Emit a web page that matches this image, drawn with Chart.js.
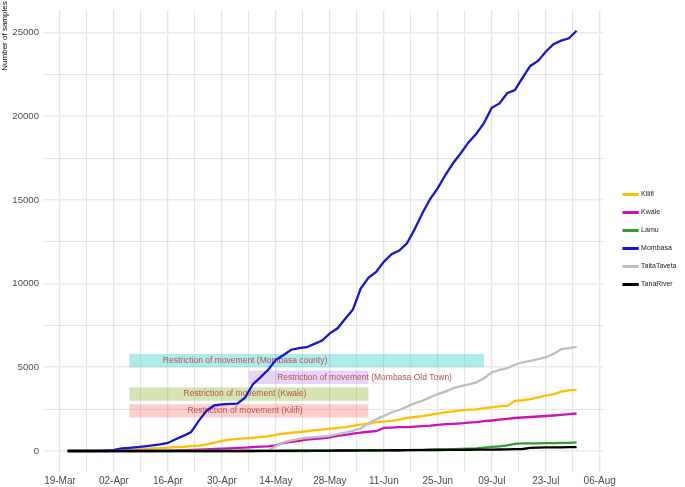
<!DOCTYPE html>
<html lang="en">
<head>
<meta charset="UTF-8">
<title>Number of samples by county</title>
<script src="https://cdn.jsdelivr.net/npm/chart.js"></script>
<style>
  html, body { margin: 0; padding: 0; background: #fff; }
  #wrap { width: 685px; height: 487px; }
</style>
</head>
<body>
<div id="wrap"><canvas id="chart"></canvas></div>
<script>
// days since 19-Mar-2020
const days = [2, 4, 6, 8, 10, 12, 14, 16, 18, 20,
  22, 24, 26, 28, 30, 32, 34, 36, 38, 40,
  42, 44, 46, 48, 50, 52, 54, 56, 58, 60,
  62, 64, 66, 68, 70, 72, 74, 76, 78, 80,
  82, 84, 86, 88, 90, 92, 94, 96, 98, 100,
  102, 104, 106, 108, 110, 112, 114, 116, 118, 120,
  122, 124, 126, 128, 130, 132, 134];

const counties = ['Kilifi', 'Kwale', 'Lamu', 'Mombasa', 'TaitaTaveta', 'TanaRiver'];
const colors = ['#ffc000', '#cc11b8', '#2fa02c', '#1616d8', '#bebebe', '#000000'];

const kilifi = [0, 0, 0, 0, 0, 0, 20, 40, 70, 100,
  120, 150, 170, 200, 230, 250, 290, 320, 400, 500,
  600, 680, 720, 750, 790, 830, 880, 960, 1040, 1090,
  1130, 1180, 1240, 1280, 1330, 1380, 1430, 1500, 1580, 1640,
  1720, 1760, 1800, 1880, 1980, 2030, 2080, 2160, 2230, 2300,
  2360, 2420, 2470, 2490, 2560, 2610, 2660, 2690, 3000, 3030,
  3100, 3200, 3300, 3380, 3540, 3620, 3670];
const kwale = [0, 0, 0, 0, 0, 0, 0, 0, 0, 0,
  0, 0, 10, 20, 30, 45, 60, 80, 100, 120,
  140, 160, 180, 200, 230, 260, 280, 330, 480, 540,
  600, 680, 720, 760, 820, 900, 960, 1040, 1100, 1150,
  1180, 1380, 1400, 1420, 1430, 1450, 1480, 1510, 1560, 1600,
  1620, 1650, 1690, 1730, 1780, 1820, 1870, 1920, 1970, 2000,
  2030, 2060, 2090, 2120, 2160, 2200, 2240];
const lamu = [0, 0, 0, 0, 0, 0, 0, 0, 0, 0,
  0, 0, 0, 0, 0, 0, 0, 0, 0, 0,
  0, 0, 0, 0, 0, 0, 0, 0, 0, 0,
  0, 0, 10, 10, 15, 20, 20, 25, 25, 30,
  30, 35, 40, 45, 50, 60, 70, 80, 90, 100,
  110, 120, 140, 160, 200, 240, 280, 330, 430, 450,
  460, 460, 470, 470, 480, 490, 510];
const mombasa = [0, 0, 0, 0, 10, 30, 70, 150, 190, 230,
  280, 340, 400, 480, 700, 900, 1130, 1800, 2400, 2720,
  2790, 2810, 2830, 3180, 3980, 4400, 4850, 5450, 5730, 6050,
  6150, 6200, 6400, 6600, 7030, 7330, 7900, 8450, 9700, 10350,
  10700, 11300, 11750, 11970, 12400, 13250, 14200, 15050, 15700, 16500,
  17200, 17800, 18450, 18950, 19600, 20500, 20760, 21370, 21560, 22300,
  23000, 23300, 23850, 24300, 24510, 24650, 25100];
const taitaTaveta = [0, 0, 0, 0, 0, 0, 0, 0, 0, 0,
  0, 0, 0, 0, 0, 0, 0, 0, 0, 0,
  0, 0, 0, 0, 0, 10, 30, 280, 520, 640,
  720, 790, 830, 860, 900, 1000, 1100, 1200, 1350, 1650,
  1900, 2100, 2300, 2450, 2650, 2850, 3000, 3200, 3400, 3550,
  3750, 3870, 3980, 4100, 4350, 4700, 4850, 4950, 5150, 5300,
  5380, 5480, 5600, 5800, 6080, 6150, 6220];
const tanaRiver = [0, 0, 0, 0, 0, 0, 0, 0, 0, 0,
  0, 0, 0, 0, 0, 0, 0, 0, 0, 0,
  0, 0, 0, 0, 0, 5, 10, 10, 15, 15,
  20, 20, 20, 25, 25, 30, 30, 30, 35, 35,
  40, 40, 45, 45, 50, 50, 55, 60, 60, 65,
  70, 70, 75, 80, 80, 85, 90, 100, 110, 120,
  180, 200, 210, 215, 220, 225, 230];
const series = [kilifi, kwale, lamu, mombasa, taitaTaveta, tanaRiver];

// tick positions (x in days since 19-Mar); only every other one gets a label
const xTicks = [0, 7, 14, 21, 28, 35, 42, 49, 56, 63, 70, 77, 84, 91, 98, 105, 112, 119, 126, 133, 140];
const yTicks = [0, 2500, 5000, 7500, 10000, 12500, 15000, 17500, 20000, 22500, 25000];

// movement restriction bands (day range, sample range)
const boxLabels = ['Restriction of movement (Mombasa county)', 'Restriction of movement (Mombasa Old Town)',
  'Restriction of movement (Kwale)', 'Restriction of movement (Kilifi)'];
const boxStart = [18, 49, 18, 18];
const boxEnd = [110, 80, 80, 80];
const boxLow = [5000, 4000, 3000, 2000];
const boxHigh = [5800, 4800, 3800, 2800];
const labelDay = [48, 79, 48, 48];
const boxColors = ['rgba(29,195,195,0.35)', 'rgba(178,112,238,0.3)', 'rgba(138,178,41,0.35)', 'rgba(245,98,88,0.3)'];

const months = ['Jan', 'Feb', 'Mar', 'Apr', 'May', 'Jun', 'Jul', 'Aug', 'Sep', 'Oct', 'Nov', 'Dec'];
function dayLabel(v) {
  const d = new Date(Date.UTC(2020, 2, 19 + v));
  return String(d.getUTCDate()).padStart(2, '0') + '-' + months[d.getUTCMonth()];
}

Chart.defaults.font.family = "'Liberation Sans', Arial, sans-serif";

const bands = {
  id: 'bands',
  beforeDatasetsDraw(chart) {
    const { ctx, scales: { x, y } } = chart;
    ctx.save();
    ctx.font = "8.5px 'Liberation Sans', Arial, sans-serif";
    ctx.textAlign = 'center';
    ctx.textBaseline = 'middle';
    boxLabels.forEach((label, i) => {
      const x0 = x.getPixelForValue(boxStart[i]);
      const x1 = x.getPixelForValue(boxEnd[i]);
      const y0 = y.getPixelForValue(boxLow[i]);
      const y1 = y.getPixelForValue(boxHigh[i]);
      ctx.fillStyle = boxColors[i];
      ctx.fillRect(x0, y1, x1 - x0, y0 - y1);
      ctx.fillStyle = '#b5524f';
      ctx.fillText(label, x.getPixelForValue(labelDay[i]), (y0 + y1) / 2);
    });
    ctx.restore();
  }
};

// y title sits in the top left corner like the original
const yTitle = {
  id: 'yTitle',
  afterDraw(chart) {
    const ctx = chart.ctx;
    ctx.save();
    ctx.translate(5, 36);
    ctx.rotate(-Math.PI / 2);
    ctx.font = "8px 'Liberation Sans', Arial, sans-serif";
    ctx.fillStyle = '#000';
    ctx.textAlign = 'center';
    ctx.textBaseline = 'middle';
    ctx.fillText('Number of samples', 0, 0);
    ctx.restore();
  }
};

// nudge the legend a bit away from the panel
const legendShift = {
  id: 'legendShift',
  afterLayout(chart) {
    chart.legend.left += 9;
    chart.legend.right += 9;
    chart.legend.top -= 4;
    chart.legend.bottom -= 4;
  }
};

new Chart(document.getElementById('chart'), {
  type: 'line',
  data: {
    datasets: counties.map((name, i) => ({
      label: name,
      data: days.map((d, j) => ({ x: d, y: series[i][j] })),
      borderColor: colors[i],
      backgroundColor: colors[i],
      borderWidth: 2.3,
      pointRadius: 0,
      tension: 0,
      order: counties.length - i
    }))
  },
  options: {
    responsive: true,
    maintainAspectRatio: false,
    animation: false,
    devicePixelRatio: 1,
    layout: { padding: { right: 7.5 } },
    plugins: {
      legend: {
        position: 'right',
        labels: {
          boxWidth: 14,
          boxHeight: 0.5,
          padding: 11,
          color: '#1a1a1a',
          font: { size: 7 },
          sort: (a, b) => a.datasetIndex - b.datasetIndex
        }
      },
      tooltip: { enabled: false }
    },
    scales: {
      x: {
        type: 'linear',
        min: -4.4,
        max: 141.0,
        border: { display: false },
        grid: {
          drawTicks: false,
          color: c => (c.tick && c.tick.value % 14 === 0) ? '#e3e3e3' : '#e6e6e6',
          lineWidth: c => (c.tick && c.tick.value % 14 === 0) ? 1.3 : 1
        },
        ticks: {
          autoSkip: false,
          maxRotation: 0,
          padding: 3,
          color: '#4d4d4d',
          font: { size: 10 },
          callback: v => v % 14 === 0 ? dayLabel(v) : ''
        },
        afterBuildTicks: s => { s.ticks = xTicks.map(v => ({ value: v })); },
        afterFit: s => { s.height = 15; }
      },
      y: {
        min: -1255,
        max: 26355,
        border: { display: false },
        grid: {
          drawTicks: false,
          color: c => (c.tick && c.tick.value % 5000 === 0) ? '#ebebeb' : '#e4e4e4',
          lineWidth: c => (c.tick && c.tick.value % 5000 === 0) ? 1.6 : 1
        },
        ticks: {
          padding: 4,
          color: '#4d4d4d',
          font: { size: 9.6 },
          callback: v => v % 5000 === 0 ? String(v) : ''
        },
        afterBuildTicks: s => { s.ticks = yTicks.map(v => ({ value: v })); },
        afterFit: s => { s.width = 43; }
      }
    }
  },
  plugins: [bands, yTitle, legendShift]
});
</script>
</body>
</html>
